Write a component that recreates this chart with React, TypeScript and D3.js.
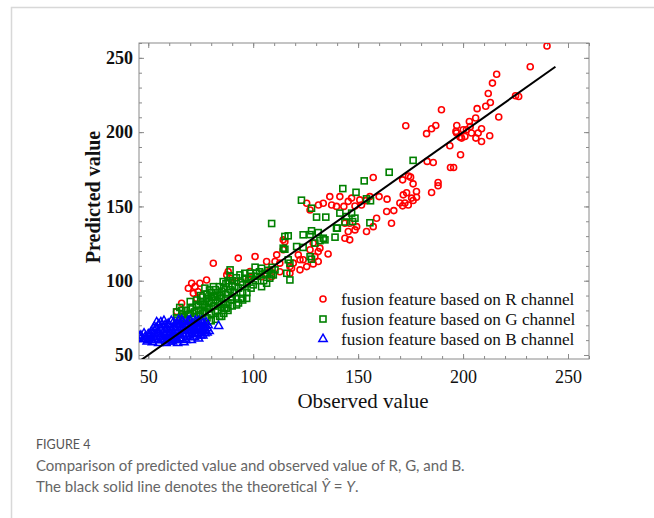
import React, { useEffect, useRef } from 'react';
import * as d3 from 'd3';

// observed, predicted pairs
const redPoints: [number, number][] = [
  [240, 258], [232, 244], [216, 239], [214, 233], [212, 226], [225, 224.5], [226.5, 224], [213, 220],
  [210.8, 217.4], [206.7, 215.8], [217, 210.2], [189.7, 215.1], [206, 209.5], [203, 207.2], [197, 204.5],
  [172.7, 204.3], [187, 204.5], [185, 202.3], [182.6, 199], [196.6, 200.5], [201.6, 201.6], [204, 199.4],
  [208.8, 202.3], [207.2, 199.4], [206.1, 196], [208.8, 193.7], [212.7, 197.6], [198.5, 196.7], [200.9, 197.1],
  [193.7, 190.8], [198.8, 184.8], [194, 176.2], [195.5, 176.2], [182.9, 180.3], [185.8, 179.6], [203.4, 203.7],
  [200.1, 201.6], [196.9, 199.4], [199.3, 196],
  [175, 169.7], [171.2, 167.9], [176.2, 165.2], [177.8, 160], [175.5, 155.6], [176.2, 154], [171.5, 157.8],
  [172.3, 152.3], [171.2, 150.4], [185, 159.4], [188.1, 166.1], [188.1, 163.9], [174, 170.5], [157.2, 169.5],
  [163.8, 154.9], [160, 156.6], [165.9, 138.7], [163.6, 146.6], [167, 147.2], [158.8, 142], [155.6, 156.6],
  [153.7, 153.9], [150.8, 154.4], [148.5, 150.3], [146.9, 155.6], [145.3, 153.4], [143.2, 150], [141.3, 156.6],
  [139.7, 150], [136.5, 156.6], [137.4, 151], [133.4, 152.1], [131.1, 151], [125.5, 152.1], [127.1, 147.6],
  [143.7, 138.7], [146, 138.7], [149.3, 136.4], [173.9, 151], [169.9, 152.3], [173.1, 159.2], [154, 133.1],
  [157.2, 136.4], [151.6, 151], [148.5, 134.2], [145.3, 133.1], [143.7, 128.6], [146, 127.5], [177.8, 156.2],
  [135.7, 118], [131.8, 121.9], [128.6, 125.3], [127.1, 120.8], [129.4, 116.2], [131, 112.9], [122.3, 114.1],
  [119.1, 111.8], [125.5, 109.5], [122.3, 107.3], [115.1, 126.3], [114.3, 120.8], [111.2, 117.4], [106.4, 112.9],
  [117.5, 109.5], [112.7, 106], [128.6, 111.3], [123.8, 114.1], [118.3, 108.4], [117.5, 105], [108, 107.3],
  [108.8, 102.7], [110.4, 112.9], [112.7, 111.8], [121.5, 117.4], [131, 119.6], [114.3, 127.5],
  [81, 111.7], [92.9, 115.2], [100.9, 116.3], [104, 102.7], [87.4, 103.9], [89, 101.7], [98.5, 106.1],
  [97.7, 100.5], [92.1, 99.4], [88.1, 106.1], [65.9, 84.8], [70.7, 98.3], [72.3, 96], [74.6, 98.3],
  [77.8, 100.5], [69.1, 94.9], [71.5, 91.5], [73.8, 92.6], [73.1, 88.1], [63.5, 79.2],
];

const greenPoints: [number, number][] = [
  [63.5, 79], [63.5, 75], [66, 77], [68, 80], [70, 78], [71, 82], [72, 76], [73, 84], [74, 80], [75, 86],
  [76, 78], [77, 83], [78, 88], [78, 75], [79, 81], [80, 85], [80, 92], [81, 89], [82, 79], [82, 94],
  [83, 86], [84, 90], [85, 82], [85.7, 99.4], [86, 95], [86, 78], [87, 88], [87.3, 81.5], [88, 92],
  [89, 107.3], [89, 102.7], [89.7, 87.1], [90, 97], [91.3, 96], [92.1, 83.7], [93.7, 103.9], [94.5, 88.1],
  [95, 97.2], [96.1, 101.7], [96.9, 88.1], [97, 92], [98.5, 105], [99, 95], [100, 97.2], [100.9, 109.1],
  [101.6, 105], [104, 108.4], [104, 96], [105.6, 105], [106.4, 98.3], [107.9, 101.7], [108.8, 104.6],
  [110.4, 107.3], [72, 71], [76, 72], [80, 73], [84, 76], [86.5, 81.5], [81.6, 89.3], [79.2, 93.8],
  [75, 90], [77, 95], [68, 74], [65, 82], [70, 86],
  [64, 73.5], [66, 80], [67, 75], [69, 77], [70, 81], [71, 74], [72, 79], [73, 87], [74, 77], [74, 83],
  [75, 80], [76, 84], [76, 89], [77, 79], [78, 82], [78, 91], [79, 86], [80, 78], [80, 89], [81, 83],
  [81, 96], [82, 87], [83, 91], [83, 80], [84, 85], [84, 96], [85, 88], [85, 93], [86, 84], [87, 91],
  [87, 98], [88, 85], [88, 100], [89, 94], [90, 89], [90, 100], [91, 92], [92, 88], [92, 102], [93, 95],
  [94, 99], [95, 92], [96, 105], [97, 98], [98, 101], [99, 103], [101, 100], [102, 103], [103, 106],
  [105, 100], [106, 104], [107, 107], [109, 109], [82, 74], [85, 76], [88, 80], [90, 83], [93, 85], [95, 87],
  [108.8, 138.5], [164.8, 173], [176.2, 181], [152.9, 167.2], [142.7, 162], [149, 159.5], [154, 155.1],
  [155.9, 153.8], [123, 154.2], [127.8, 148.8], [130.2, 142.8], [134.6, 142.8], [141.3, 145.5],
  [144.5, 143.2], [146.9, 145.5], [148.5, 142.1], [147.4, 139.8], [139.7, 135.4], [143.7, 139.5],
  [155.6, 139], [116.7, 130.2], [123.8, 130.9], [127.8, 133.6], [131, 132.4], [134.2, 127.5], [139, 129.3],
  [140.1, 135.4], [133.4, 128.6], [131.8, 127], [129.4, 125.3], [127.1, 131], [115.1, 129.8], [114.3, 121.9],
  [120.7, 123], [123.8, 122.4], [127.8, 114.5], [116.7, 114.1], [109.6, 103.9], [116, 105], [117.5, 100.5],
  [115.1, 121.2], [117.5, 111.8], [127.1, 116.2],
];

const bluePoints: [number, number][] = [
  [44.8, 61], [46.5, 63], [47.5, 60.5], [48.5, 62], [49.5, 59], [50, 64], [51, 61], [51.5, 66], [52, 58.5],
  [52.5, 63], [53, 69], [53.5, 60], [54, 72], [54.5, 65], [55, 58], [55.5, 62], [56, 67], [56.5, 70],
  [57, 60], [57.5, 73], [58, 64], [58.5, 58], [59, 68], [59.5, 71], [60, 61], [60.5, 65], [61, 73],
  [61.5, 59], [62, 69], [62.5, 63], [63, 66], [63.5, 71], [64, 60], [64.5, 73.5], [65, 64], [65.5, 68],
  [66, 61], [66.5, 72], [67, 58.5], [67.5, 66], [68, 70], [68.5, 62], [69, 73], [69.5, 64], [70, 68],
  [70.5, 60], [71, 71], [71.5, 66], [72, 62], [72.5, 73], [73, 69], [73.5, 64], [74, 61], [74.5, 71],
  [75, 66], [75.5, 73], [76, 63], [76.5, 69], [77, 67], [77.5, 72], [78, 65], [78.5, 70], [83.5, 69.5],
  [53, 66.5], [55, 70.5], [57, 65], [59, 62], [61, 67], [63, 62], [65, 70], [67, 63], [69, 67], [71, 64],
  [73, 66.5], [75, 68.5], [77, 64.5], [58, 70], [62, 72], [66, 73.5], [70, 73.5], [74, 73], [60, 59],
  [64, 58], [56, 60], [50, 60], [48, 64.5],
  [46, 62.5], [49, 61], [51, 63.5], [52, 60], [54, 62], [54, 68], [55, 64], [56, 72], [57, 62], [58, 67],
  [58, 60.5], [59, 65], [60, 70], [60, 63], [61, 61], [62, 65], [62, 60], [63, 68], [64, 65], [64, 71],
  [65, 61], [66, 66], [66, 69], [67, 71], [68, 64], [68, 60], [69, 70], [70, 62], [70, 66], [71, 69],
  [72, 67], [72, 64.5], [73, 71.5], [74, 67.5], [75, 63], [76, 71], [76, 66.5], [77, 70], [78, 68], [79, 66],
];

const majorTicks = [50, 100, 150, 200, 250];
const minorTicks = d3.range(50, 261, 10);
const legendLabels = [
  'fusion feature based on R channel',
  'fusion feature based on G channel',
  'fusion feature based on B channel',
];

const App = () => {
  const svgRef = useRef<SVGSVGElement>(null);

  useEffect(() => {
    const svg = d3.select(svgRef.current);
    svg.selectAll('*').remove();

    const left = 139, top = 43, right = 589, bottom = 359;
    const w = right - left, h = bottom - top;

    // card frame
    svg.append('path')
      .attr('d', `M11.5,518 V7.5 H654`)
      .attr('fill', 'none')
      .attr('stroke', '#d8d8d8')
      .attr('stroke-width', 1.5);

    const x = d3.scaleLinear().domain([45.6, 260]).range([0, w]);
    const y = d3.scaleLinear().domain([47.3, 260]).range([h, 0]);

    const g = svg.append('g').attr('transform', `translate(${left},${top})`);

    g.append('clipPath').attr('id', 'plotclip')
      .append('rect').attr('width', w).attr('height', h);

    const serif = '"Liberation Serif", "Times New Roman", serif';
    const tickColor = '#8a8a8a';

    const styleAxis = (sel: any) => {
      sel.select('.domain').remove();
      sel.selectAll('line').attr('stroke', tickColor);
      sel.selectAll('text').attr('font-family', serif).attr('fill', '#111');
    };

    // minor ticks on all sides
    g.append('g').attr('transform', `translate(0,${h})`)
      .call(d3.axisBottom(x).tickValues(minorTicks).tickSize(-3).tickFormat(() => ''))
      .call(styleAxis);
    g.append('g')
      .call(d3.axisTop(x).tickValues(minorTicks).tickSize(-3).tickFormat(() => ''))
      .call(styleAxis);
    g.append('g')
      .call(d3.axisLeft(y).tickValues(minorTicks).tickSize(-3).tickFormat(() => ''))
      .call(styleAxis);
    g.append('g').attr('transform', `translate(${w},0)`)
      .call(d3.axisRight(y).tickValues(minorTicks).tickSize(-3).tickFormat(() => ''))
      .call(styleAxis);

    // major ticks with labels
    g.append('g').attr('transform', `translate(0,${h})`)
      .call(d3.axisBottom(x).tickValues(majorTicks).tickSize(-5).tickPadding(11).tickFormat(d3.format('d')))
      .call(styleAxis)
      .selectAll('text').attr('font-size', 18);
    g.append('g')
      .call(d3.axisLeft(y).tickValues(majorTicks).tickSize(-5).tickPadding(6).tickFormat(d3.format('d')))
      .call(styleAxis)
      .selectAll('text').attr('font-size', 18).attr('font-weight', 'bold');
    g.append('g')
      .call(d3.axisTop(x).tickValues(majorTicks).tickSize(-5).tickFormat(() => ''))
      .call(styleAxis);
    g.append('g').attr('transform', `translate(${w},0)`)
      .call(d3.axisRight(y).tickValues(majorTicks).tickSize(-5).tickFormat(() => ''))
      .call(styleAxis);

    g.append('rect')
      .attr('width', w).attr('height', h)
      .attr('fill', 'none').attr('stroke', tickColor).attr('stroke-width', 1);

    const plot = g.append('g').attr('clip-path', 'url(#plotclip)');

    const triangle = d3.symbol().type(d3.symbolTriangle).size(30);

    plot.selectAll('circle.r').data(redPoints).enter().append('circle')
      .attr('class', 'r')
      .attr('cx', d => x(d[0])).attr('cy', d => y(d[1])).attr('r', 3)
      .attr('fill', 'none').attr('stroke', '#ff0000').attr('stroke-width', 1.6);

    plot.selectAll('rect.gp').data(greenPoints).enter().append('rect')
      .attr('class', 'gp')
      .attr('x', d => x(d[0]) - 3).attr('y', d => y(d[1]) - 3)
      .attr('width', 6).attr('height', 6)
      .attr('fill', 'none').attr('stroke', '#008000').attr('stroke-width', 1.6);

    plot.selectAll('path.b').data(bluePoints).enter().append('path')
      .attr('class', 'b')
      .attr('transform', d => `translate(${x(d[0])},${y(d[1])})`)
      .attr('d', triangle)
      .attr('fill', 'none').attr('stroke', '#0000ff').attr('stroke-width', 1.5);

    // theoretical line Y-hat = Y
    plot.append('line')
      .attr('x1', x(45.6)).attr('y1', y(45.6))
      .attr('x2', x(244)).attr('y2', y(244))
      .attr('stroke', '#000').attr('stroke-width', 2);

    // legend
    const legend = g.append('g').attr('transform', `translate(${323 - left},${299 - top})`);
    legendLabels.forEach((label, i) => {
      const row = legend.append('g').attr('transform', `translate(0,${i * 20})`);
      if (i === 0) {
        row.append('circle').attr('r', 3).attr('fill', 'none').attr('stroke', '#ff0000').attr('stroke-width', 1.6);
      } else if (i === 1) {
        row.append('rect').attr('x', -3).attr('y', -3).attr('width', 6).attr('height', 6)
          .attr('fill', 'none').attr('stroke', '#008000').attr('stroke-width', 1.6);
      } else {
        row.append('path').attr('d', triangle).attr('fill', 'none').attr('stroke', '#0000ff').attr('stroke-width', 1.5);
      }
      row.append('text')
        .attr('x', 18).attr('y', 5.5)
        .attr('font-family', serif).attr('font-size', 17.2).attr('fill', '#111')
        .text(label);
    });

    // axis titles
    svg.append('text')
      .attr('x', 363).attr('y', 408)
      .attr('text-anchor', 'middle')
      .attr('font-family', serif).attr('font-size', 21).attr('fill', '#111')
      .text('Observed value');
    svg.append('text')
      .attr('transform', `translate(100,197) rotate(-90)`)
      .attr('text-anchor', 'middle')
      .attr('font-family', serif).attr('font-size', 20).attr('font-weight', 'bold').attr('fill', '#111')
      .text('Predicted value');

    // caption
    const sans = 'Lato, "Open Sans", sans-serif';
    svg.append('text')
      .attr('x', 36).attr('y', 449)
      .attr('font-family', sans).attr('font-size', 12.5).attr('fill', '#555')
      .text('FIGURE 4');
    svg.append('text')
      .attr('x', 36).attr('y', 470.5)
      .attr('font-family', sans).attr('font-size', 15).attr('fill', '#666')
      .text('Comparison of predicted value and observed value of R, G, and B.');
    const line2 = svg.append('text')
      .attr('x', 36).attr('y', 491.5)
      .attr('font-family', sans).attr('font-size', 15).attr('fill', '#666');
    line2.append('tspan').text('The black solid line denotes the theoretical ');
    line2.append('tspan').attr('font-style', 'italic').text('Ŷ');
    line2.append('tspan').text(' = ');
    line2.append('tspan').attr('font-style', 'italic').text('Y');
    line2.append('tspan').text('.');
  }, []);

  return (
    <svg
      ref={svgRef}
      width={654}
      height={518}
      style={{ position: 'absolute', left: 0, top: 0, background: '#fff' }}
    />
  );
};

export default App;
